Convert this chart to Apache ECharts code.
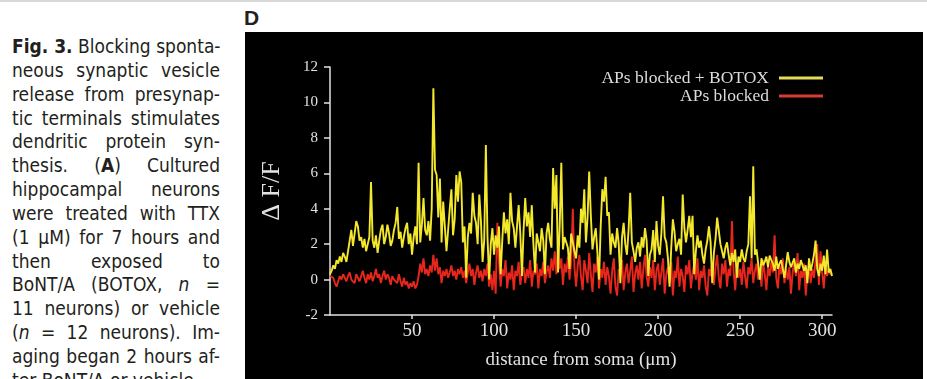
<!DOCTYPE html>
<html>
<head>
<meta charset="utf-8">
<title>Fig. 3D</title>
<script src="https://cdn.jsdelivr.net/npm/echarts@6/dist/echarts.min.js"></script>
<style>
  html, body {
    margin: 0;
    padding: 0;
    width: 927px;
    height: 379px;
    overflow: hidden;
    background: #FFFFFF;
  }
  .top-rule {
    position: absolute;
    left: 0;
    top: 0;
    width: 927px;
    height: 2px;
    background: #D8D8D8;
  }
  .caption {
    position: absolute;
    left: 12px;
    top: 35px;
    width: 208px;
    font-family: "Liberation Sans Narrow", "DejaVu Sans Condensed", "Liberation Sans", sans-serif;
    font-size: 19px;
    line-height: 23.85px;
    color: #231F20;
  }
  .caption .ln {
    white-space: nowrap;
    text-align: justify;
    text-align-last: justify;
  }
  .caption .last {
    text-align-last: left;
  }
  .panel-label {
    position: absolute;
    left: 244px;
    top: 6px;
    font-family: "Liberation Sans", sans-serif;
    font-weight: bold;
    font-size: 21px;
    color: #231F20;
  }
  #chart {
    position: absolute;
    left: 245px;
    top: 32px;
    width: 678px;
    height: 347px;
    background: #000000;
  }
</style>
</head>
<body>
<div class="top-rule"></div>
<div class="caption">
  <div class="ln"><b>Fig. 3.</b> Blocking sponta-</div>
  <div class="ln">neous synaptic vesicle</div>
  <div class="ln">release from presynap-</div>
  <div class="ln">tic terminals stimulates</div>
  <div class="ln">dendritic protein syn-</div>
  <div class="ln">thesis. (<b>A</b>) Cultured</div>
  <div class="ln">hippocampal neurons</div>
  <div class="ln">were treated with TTX</div>
  <div class="ln">(1 μM) for 7 hours and</div>
  <div class="ln">then exposed to</div>
  <div class="ln">BoNT/A (BOTOX, <i>n</i> =</div>
  <div class="ln">11 neurons) or vehicle</div>
  <div class="ln">(<i>n</i> = 12 neurons). Im-</div>
  <div class="ln">aging began 2 hours af-</div>
  <div class="ln last">ter BoNT/A or vehicle</div>
</div>
<div class="panel-label">D</div>
<div id="chart"></div>
<script>
// one sample per micrometre along the dendrite
const distanceStep = 1;

// ΔF/F, APs blocked + BOTOX (yellow)
const botoxValues = [
  0.3, 0.5, 0.8, 0.6, 1.1, 0.9, 1.3, 1.0, 1.5, 1.3,
  1.0, 1.6, 2.2, 2.8, 1.9, 2.6, 3.3, 3.0, 2.2, 2.4,
  1.8, 2.3, 1.6, 2.0, 2.4, 5.5, 2.2, 1.8, 2.5, 1.5,
  2.2, 2.8, 3.1, 2.0, 2.4, 3.1, 2.6, 1.9, 2.2, 2.8,
  3.2, 4.1, 2.3, 2.7, 1.8, 2.4, 2.9, 3.2, 2.0, 2.6,
  1.4, 2.4, 3.0, 2.0, 6.6, 2.1, 3.1, 4.6, 2.8, 2.5,
  3.3, 2.2, 4.0, 10.8, 6.2, 5.9, 3.5, 5.7, 2.1, 4.4,
  3.0, 1.6, 2.8, 4.0, 5.1, 2.5, 3.4, 5.9, 4.4, 6.1,
  5.5, 2.1, 3.0, 0.1, 2.4, 3.2, 2.6, 4.9, 3.6, 3.2,
  2.0, 4.8, 3.3, 1.0, 2.2, 7.6, 2.4, 0.0, 2.0, 2.9,
  1.4, 2.5, 1.8, 3.0, 0.3, 2.2, 3.8, 2.6, 3.4, 2.0,
  4.9, 3.3, 2.9, 1.8, 3.0, 4.2, 2.6, 0.2, 2.8, 4.6,
  3.0, 3.8, 2.4, 4.2, 2.0, 0.4, 2.6, 2.1, 1.6, 2.9,
  2.2, 0.3, 2.6, 3.2, 2.3, 1.8, 6.3, 4.0, 5.9, 0.4,
  3.0, 6.6, 1.7, 2.4, 2.5, 1.8, 0.6, 2.6, 2.1, 1.6,
  1.2, 2.5, 1.8, 4.0, 3.2, 5.1, 2.1, 3.5, 6.1, 3.6,
  1.7, 2.4, 2.9, 1.5, 0.0, 3.0, 5.1, 4.4, 5.8, 3.6,
  3.8, 1.4, 2.6, 2.1, 1.8, 2.9, 2.0, -0.2, 2.4, 3.2,
  2.0, 1.4, 2.8, 4.9, 2.1, 1.6, 1.0, 1.8, 2.1, 1.3,
  2.4, 1.8, 2.9, 2.2, 0.2, 1.4, 1.7, 2.8, 1.0, 3.3,
  1.9, 1.4, 2.6, 4.7, 2.4, 2.1, 1.2, -0.4, 1.8, 3.4,
  2.7, 1.6, 2.0, 2.3, 1.4, 4.8, 2.9, 2.1, 2.8, 3.6,
  2.4, 3.6, 0.3, 1.6, 2.5, 1.8, 2.2, 1.4, 0.9, 1.7,
  2.2, 3.0, 2.1, -0.2, 1.5, 2.3, 3.5, 3.4, 2.0, 1.6,
  1.2, 1.8, 2.1, 1.4, 0.8, 1.5, 1.0, 1.7, 0.1, 1.3,
  1.0, 1.7, 1.2, 1.0, 1.6, 2.0, 4.7, 1.2, 6.4, 1.4,
  1.7, 0.9, 0.0, 1.2, 0.8, 1.0, 1.3, 0.7, 1.35, 1.1,
  0.9, 0.5, 1.3, 0.6, 0.9, 1.1, 1.2, 0.1, 0.8, 1.55,
  1.0, 0.7, 0.6, 1.2, 0.4, 0.9, 0.6, 1.1, 1.0, 0.5,
  0.8, -0.2, 1.2, 0.5, 0.9, 1.4, 2.2, 0.6, 0.2, 0.9,
  0.5, 1.35, 0.3, 1.7, 0.4, 0.6, 0.2
];

// ΔF/F, APs blocked only (red)
const blockedValues = [
  0.2, 0.3, 0.1, -0.2, -0.4, -0.1, 0.2, 0.0, 0.3, 0.1,
  -0.1, 0.2, 0.4, 0.0, 0.1, -0.2, 0.3, 0.1, -0.1, 0.2,
  0.5, 0.1, -0.2, 0.3, 0.0, 0.4, -0.1, 0.2, 0.6, 0.1,
  0.3, -0.2, 0.2, 0.5, 0.0, 0.3, 0.1, -0.3, 0.2, 0.0,
  0.1, -0.2, 0.3, -0.1, -0.4, 0.1, -0.3, -0.1, -0.5, -0.2,
  -0.4, -0.1, -0.5, -0.3, 0.2, 0.9, 0.4, 1.2, 0.3, 0.6,
  0.2, 0.8, 0.4, 1.4, 0.5, 1.2, 0.3, 0.7, -0.2, 0.5,
  0.2, 0.6, 0.1, 0.4, 0.8, 0.2, 0.5, 0.0, 0.6, 0.3,
  0.7, 0.1, 0.5, -0.2, 0.4, 0.9, 0.2, 0.6, -0.3, 0.4,
  0.8, 0.1, 0.5, -0.1, 0.6, 0.2, 0.9, -0.4, 0.3, -0.6,
  0.5, -0.8, 3.2, 1.0, -0.4, 0.6, 0.2, 1.1, -0.5, 0.4,
  0.0, 0.8, -0.6, 0.5, 0.2, 1.0, -0.3, 0.4, 0.7, -0.2,
  0.6, 0.1, 1.1, -0.4, 0.5, 0.3, 0.9, -0.5, 0.6, 0.2,
  1.0, -0.2, 0.4, 0.8, 0.1, 1.2, 0.5, 1.6, 0.3, 1.7,
  0.6, 1.2, -0.3, 0.9, 0.4, 1.3, 0.0, 1.0, 4.0, 0.7,
  -0.4, 0.8, 1.4, 0.2, -0.6, 1.1, 0.5, -0.2, 1.5, 0.3,
  -0.7, 0.9, 0.4, 1.3, -0.5, 0.6, 0.1, 1.0, -0.3, 0.7,
  0.2, -0.8, 0.5, 1.2, -0.4, -0.9, 0.6, 0.2, 1.1, -0.6,
  0.4, 0.9, -0.2, 0.5, 1.3, -0.7, 0.3, 0.8, 0.0, 1.0,
  -0.5, 0.6, 1.4, 0.2, -0.4, 0.7, 0.1, 1.1, -0.6, 0.5,
  0.9, -0.3, 0.4, 1.2, -0.8, 0.3, 0.7, -0.2, 1.0, -0.9,
  0.5, 0.1, 1.3, -0.4, 0.6, 0.2, -0.7, 0.8, 0.3, 1.1,
  -0.5, 0.4, 0.9, 0.0, 1.2, -0.6, 0.5, 0.1, 0.8, -0.4,
  -0.9, 0.6, 0.2, 1.0, -0.3, 0.7, 1.4, 0.1, -0.5, 0.9,
  0.3, 1.1, -0.4, 0.6, 0.2, 3.3, 0.5, -0.6, 0.8, 0.1,
  0.6, -0.3, 1.0, 0.2, -0.5, 0.7, 0.3, 1.2, -0.2, 0.5,
  0.9, 0.0, 0.6, -0.4, 1.1, 0.3, -0.6, 0.7, 0.2, 1.0,
  0.4, 2.5, 0.1, -0.5, 0.8, 0.3, 1.2, -0.2, 0.6, 0.0,
  0.7, -0.8, 0.4, 1.0, 0.2, 1.5, -0.6, 0.5, 0.1, 0.9,
  -0.9, 0.3, 0.8, -0.2, 0.6, 0.1, 1.1, 2.0, -0.3, 1.6,
  0.4, -0.5, 0.8, 0.2, 0.6, 0.3, 0.4
];

const xTickValues = [50, 100, 150, 200, 250, 300];
const yTickValues = [-2, 0, 2, 4, 6, 8, 10, 12];

const seriesNames = ['APs blocked + BOTOX', 'APs blocked'];

const toPairs = (values) => values.map((v, i) => [i * distanceStep, v]);

const axisColor = '#E2E2E2';
const serif = '"Liberation Serif", "DejaVu Serif", serif';

const chart = echarts.init(document.getElementById('chart'), null, { renderer: 'canvas' });

const option = {
  backgroundColor: '#000000',
  animation: false,
  grid: {
    left: 85,
    top: 35,
    width: 502,
    height: 248,
  },
  legend: {
    data: [
      { name: seriesNames[0], itemStyle: { color: '#E3DA5C' } },
      { name: seriesNames[1], itemStyle: { color: '#D93B2C' } },
    ],
    orient: 'vertical',
    align: 'right',
    right: 100,
    top: 37,
    padding: 0,
    icon: 'rect',
    itemWidth: 44,
    itemHeight: 3,
    itemGap: 0,
    selectedMode: false,
    textStyle: {
      color: '#DCDCDC',
      fontFamily: serif,
      fontSize: 17.5,
      lineHeight: 13,
      padding: [0, 5, 0, 0],
    },
  },
  xAxis: {
    type: 'value',
    min: 0,
    max: 306,
    interval: 50,
    name: 'distance from soma (μm)',
    nameLocation: 'middle',
    nameGap: 36,
    nameTextStyle: {
      color: axisColor,
      fontFamily: serif,
      fontSize: 19,
    },
    axisLine: {
      onZero: false,
      lineStyle: { color: axisColor, width: 1.5 },
    },
    axisTick: {
      length: 4,
      customValues: xTickValues,
      lineStyle: { color: axisColor, width: 1.5 },
    },
    axisLabel: {
      customValues: xTickValues,
      color: axisColor,
      fontFamily: serif,
      fontSize: 19,
      margin: 7,
    },
    splitLine: { show: false },
  },
  yAxis: {
    type: 'value',
    min: -2,
    max: 12,
    interval: 2,
    name: 'Δ F/F',
    nameLocation: 'middle',
    nameGap: 45,
    nameRotate: 90,
    nameTextStyle: {
      color: axisColor,
      fontFamily: serif,
      fontSize: 26,
    },
    axisLine: {
      show: true,
      lineStyle: { color: axisColor, width: 1.5 },
    },
    axisTick: {
      show: true,
      length: 6,
      customValues: yTickValues,
      lineStyle: { color: axisColor, width: 1.5 },
    },
    axisLabel: {
      customValues: yTickValues,
      color: axisColor,
      fontFamily: serif,
      fontSize: 15,
      margin: 12,
    },
    splitLine: { show: false },
  },
  series: [
    {
      name: seriesNames[1],
      type: 'line',
      data: toPairs(blockedValues),
      symbol: 'none',
      color: '#E8261C',
      lineStyle: { color: '#E8261C', width: 1.9 },
      z: 2,
    },
    {
      name: seriesNames[0],
      type: 'line',
      data: toPairs(botoxValues),
      symbol: 'none',
      color: '#F4E82C',
      lineStyle: { color: '#F4E82C', width: 1.9 },
      z: 3,
    },
  ],
};

chart.setOption(option);
</script>
</body>
</html>
